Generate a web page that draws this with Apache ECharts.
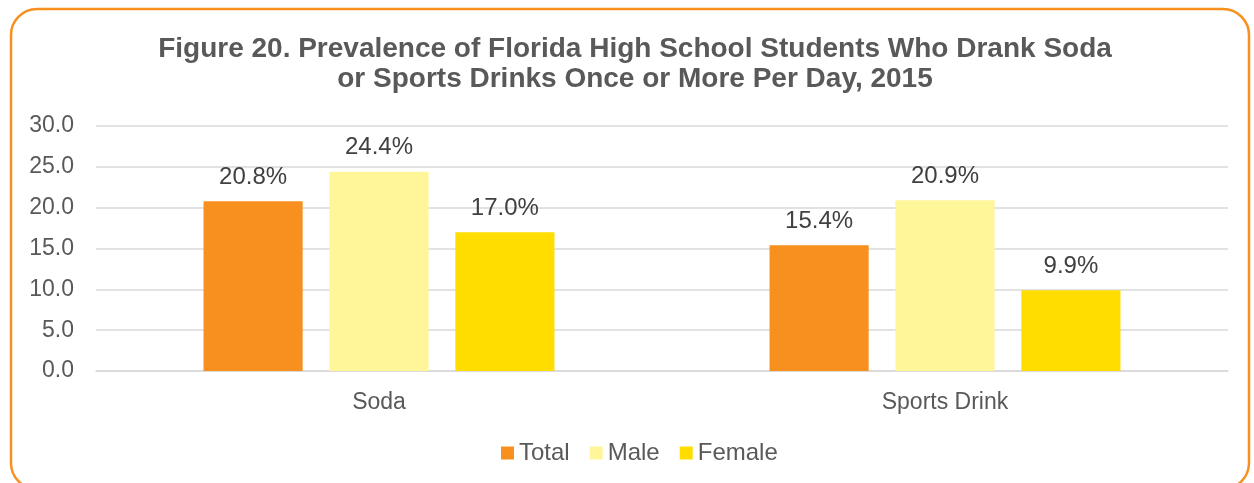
<!DOCTYPE html>
<html>
<head>
<meta charset="utf-8">
<script src="https://cdn.jsdelivr.net/npm/echarts@6/dist/echarts.min.js"></script>
<style>
  html, body { margin: 0; padding: 0; background: #fff; }
  #chart { width: 1254px; height: 483px; }
</style>
</head>
<body>
<div id="chart"></div>
<script>
const categories = ['Soda', 'Sports Drink'];
const seriesNames = ['Total', 'Male', 'Female'];
const totalValues = [20.8, 15.4];
const maleValues = [24.4, 20.9];
const femaleValues = [17.0, 9.9];
const colors = ['#F7901E', '#FFF599', '#FFDD00'];

const chart = echarts.init(document.getElementById('chart'));

function barSeries(name, data, color) {
  return {
    name: name,
    type: 'bar',
    data: data,
    barGap: '27%',
    barCategoryGap: '38%',
    itemStyle: { color: color },
    label: {
      show: true,
      position: 'top',
      distance: 12,
      color: '#404040',
      fontSize: 24,
      fontFamily: 'Liberation Sans, Arial, sans-serif',
      formatter: p => p.value.toFixed(1) + '%'
    }
  };
}

const option = {
  animation: false,
  color: colors,
  textStyle: { fontFamily: 'Liberation Sans, Arial, sans-serif' },
  title: {
    text: 'Figure 20. Prevalence of Florida High School Students Who Drank Soda\nor Sports Drinks Once or More Per Day, 2015',
    left: 630,
    top: 29,
    textAlign: 'center',
    textStyle: {
      color: '#595959',
      fontSize: 28,
      fontWeight: 'bold',
      lineHeight: 30,
      fontFamily: 'Liberation Sans, Arial, sans-serif'
    }
  },
  legend: {
    data: seriesNames,
    bottom: 13,
    left: 496,
    icon: 'rect',
    itemWidth: 13,
    itemHeight: 13,
    itemGap: 20,
    textStyle: { color: '#595959', fontSize: 24 }
  },
  grid: { left: 96, right: 26, top: 126, bottom: 112 },
  xAxis: {
    type: 'category',
    data: categories,
    axisLine: { lineStyle: { color: '#d9d9d9', width: 1.5 } },
    axisTick: { show: false },
    axisLabel: { color: '#595959', fontSize: 23, margin: 20 }
  },
  yAxis: {
    type: 'value',
    min: 0,
    max: 30,
    interval: 5,
    axisLine: { show: false },
    axisTick: { show: false },
    splitLine: { lineStyle: { color: '#d9d9d9', width: 1.5 } },
    axisLabel: {
      color: '#595959',
      fontSize: 23,
      margin: 22,
      formatter: v => v.toFixed(1)
    }
  },
  graphic: [{
    type: 'rect',
    shape: { x: 11, y: 9, width: 1238, height: 480, r: 26 },
    style: { fill: 'none', stroke: '#F7901E', lineWidth: 2.5 },
    silent: true
  }],
  series: [
    barSeries(seriesNames[0], totalValues, colors[0]),
    barSeries(seriesNames[1], maleValues, colors[1]),
    barSeries(seriesNames[2], femaleValues, colors[2])
  ]
};

chart.setOption(option);
</script>
</body>
</html>
